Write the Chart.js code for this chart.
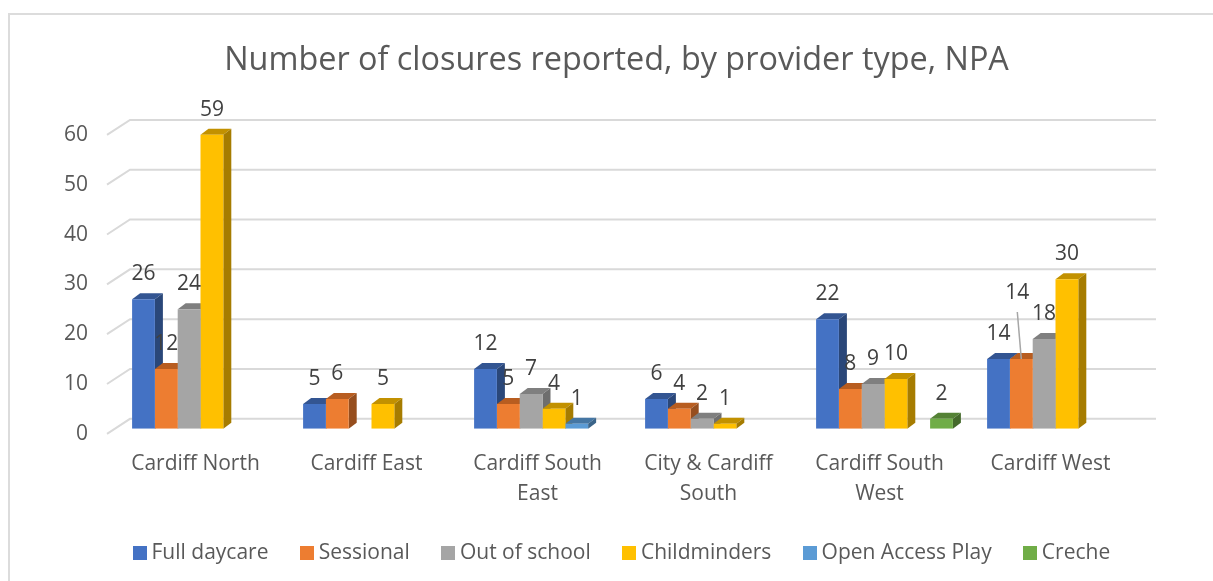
<!DOCTYPE html>
<html>
<head>
<meta charset="utf-8">
<style>
  html, body { margin: 0; background: #fff; }
  #wrap { position: relative; width: 1213px; height: 581px; overflow: hidden; }
  #frame { position: absolute; left: 8px; top: 13px; width: 1300px; height: 700px; border: 2px solid #dcdcdc; }
  canvas { position: relative; }
</style>
</head>
<body>
<div id="wrap">
  <div id="frame"></div>
  <canvas id="chart" width="1213" height="581"></canvas>
</div>
<script src="https://cdn.jsdelivr.net/npm/chart.js@4"></script>
<script>
const categories = [
  "Cardiff North", "Cardiff East", ["Cardiff South", "East"],
  ["City & Cardiff", "South"], ["Cardiff South", "West"], "Cardiff West"
];
const fullDaycare = [26, 5, 12, 6, 22, 14];
const sessional = [12, 6, 5, 4, 8, 14];
const outOfSchool = [24, null, 7, 2, 9, 18];
const childminders = [59, 5, 4, 1, 10, 30];
const openAccess = [null, null, 1, null, null, null];
const creche = [null, null, null, null, 2, null];

const seriesNames = ["Full daycare", "Sessional", "Out of school", "Childminders", "Open Access Play", "Creche"];
const seriesValues = [fullDaycare, sessional, outOfSchool, childminders, openAccess, creche];
const frontColors = ["#4472C4", "#ED7D31", "#A5A5A5", "#FFC000", "#5B9BD5", "#70AD47"];
const topColors = ["#335592", "#B85D20", "#7F7F7F", "#C29100", "#4576A3", "#548235"];
const sideColors = ["#2A4779", "#964E1E", "#6E6E6E", "#A67C00", "#3A6489", "#44692B"];

const FONT = "'Open Sans', 'Noto Sans', sans-serif";
const DEPTH_X = 8, DEPTH_Y = 6;     // bar depth
const WALL_X = 15, WALL_Y = 10;     // back wall, from the bar plane

// 14px square legend marker, so the text can sit closer than boxWidth allows
function legendMarker(color) {
  const c = document.createElement("canvas");
  c.width = c.height = 14;
  const g = c.getContext("2d");
  g.fillStyle = color;
  g.fillRect(0, 0, 14, 14);
  return c;
}

// tops and sides go under all the front faces, left to right
const barDepth = {
  id: "barDepth",
  beforeDatasetsDraw(chart) {
    const ctx = chart.ctx;
    seriesValues.forEach((vals, i) => {
      chart.getDatasetMeta(i).data.forEach((bar, j) => {
        if (vals[j] == null) return;
        const l = bar.x - bar.width / 2, r = bar.x + bar.width / 2;
        ctx.fillStyle = topColors[i];
        ctx.beginPath();
        ctx.moveTo(l, bar.y);
        ctx.lineTo(l + DEPTH_X, bar.y - DEPTH_Y);
        ctx.lineTo(r + DEPTH_X, bar.y - DEPTH_Y);
        ctx.lineTo(r, bar.y);
        ctx.fill();
        ctx.fillStyle = sideColors[i];
        ctx.beginPath();
        ctx.moveTo(r, bar.y);
        ctx.lineTo(r + DEPTH_X, bar.y - DEPTH_Y);
        ctx.lineTo(r + DEPTH_X, bar.base - DEPTH_Y);
        ctx.lineTo(r, bar.base);
        ctx.fill();
      });
    });
  }
};

// gridlines on the back wall with the little diagonal on the left
const wallGrid = {
  id: "wallGrid",
  beforeDatasetsDraw(chart) {
    const ctx = chart.ctx, y = chart.scales.y, a = chart.chartArea;
    ctx.save();
    ctx.strokeStyle = "#d9d9d9";
    ctx.lineWidth = 2;
    y.ticks.forEach(t => {
      const py = y.getPixelForValue(t.value);
      ctx.beginPath();
      ctx.moveTo(a.left - 8, py + 5);
      ctx.lineTo(a.left + WALL_X, py - WALL_Y);
      ctx.lineTo(a.right + WALL_X, py - WALL_Y);
      ctx.stroke();
    });
    ctx.restore();
  }
};

// value labels above bars; the one moved label gets a leader line
const movedLabels = [{ series: 1, cat: 5, dx: -4, dy: -41 }];
const valueLabels = {
  id: "valueLabels",
  afterDatasetsDraw(chart) {
    const ctx = chart.ctx;
    ctx.save();
    ctx.font = "21px " + FONT;
    ctx.fillStyle = "#404040";
    ctx.textAlign = "center";
    ctx.textBaseline = "middle";
    seriesValues.forEach((vals, i) => {
      const meta = chart.getDatasetMeta(i);
      vals.forEach((v, j) => {
        if (v == null) return;
        const bar = meta.data[j];
        const m = movedLabels.find(o => o.series === i && o.cat === j);
        const lx = bar.x + (m ? m.dx : 0), ly = bar.y - 25 + (m ? m.dy : 0);
        if (m) {
          ctx.strokeStyle = "#a6a6a6";
          ctx.lineWidth = 1.5;
          ctx.beginPath();
          ctx.moveTo(lx, ly + 19);
          ctx.lineTo(bar.x, bar.y);
          ctx.stroke();
        }
        ctx.fillText(String(v), lx, ly);
      });
    });
    ctx.restore();
  }
};

// legend sits right of the title centre; x labels are clipped to the
// scale box, so let that box run on under the legend
const layoutNudge = {
  id: "layoutNudge",
  afterLayout(chart) {
    chart.legend.left += 7.6;
    chart.legend.right += 7.6;
    chart.scales.x.bottom += 12;
  }
};

new Chart(document.getElementById("chart"), {
  type: "bar",
  data: {
    labels: categories,
    datasets: seriesNames.map((name, i) => ({
      label: name,
      data: seriesValues[i],
      backgroundColor: frontColors[i],
      categoryPercentage: 0.8,
      barPercentage: 1,
      pointStyle: legendMarker(frontColors[i])
    }))
  },
  plugins: [wallGrid, barDepth, valueLabels, layoutNudge],
  options: {
    responsive: false,
    animation: false,
    layout: { padding: { left: 20, right: 0, top: 41, bottom: 7.5 } },
    scales: {
      x: {
        afterFit(s) { s.height = 77; },
        grid: { display: false },
        border: { display: false },
        ticks: { color: "#595959", font: { family: FONT, size: 21, lineHeight: 1.43 }, labelOffset: -5, padding: 12, maxRotation: 0, autoSkip: false }
      },
      y: {
        min: 0,
        max: 60,
        afterFit(s) { s.width = 95; },
        grid: { display: false },
        border: { display: false },
        ticks: { stepSize: 10, color: "#595959", font: { family: FONT, size: 21 }, padding: 19, labelOffset: 5 }
      },
      // empty axis, keeps the plot clear of the right edge without narrowing the legend
      rightGap: {
        position: "right",
        afterFit(s) { s.width = 72; },
        grid: { display: false },
        border: { display: false },
        ticks: { display: false }
      }
    },
    plugins: {
      title: {
        display: true,
        text: "Number of closures reported, by provider type, NPA",
        color: "#595959",
        font: { family: FONT, size: 32.4, weight: "normal" },
        padding: { top: 0, bottom: 50 }
      },
      legend: {
        position: "bottom",
        labels: {
          color: "#595959",
          font: { family: FONT, size: 21 },
          usePointStyle: true,
          pointStyleWidth: 3,
          padding: 36.7
        }
      },
      tooltip: { enabled: false }
    }
  }
});
</script>
</body>
</html>
